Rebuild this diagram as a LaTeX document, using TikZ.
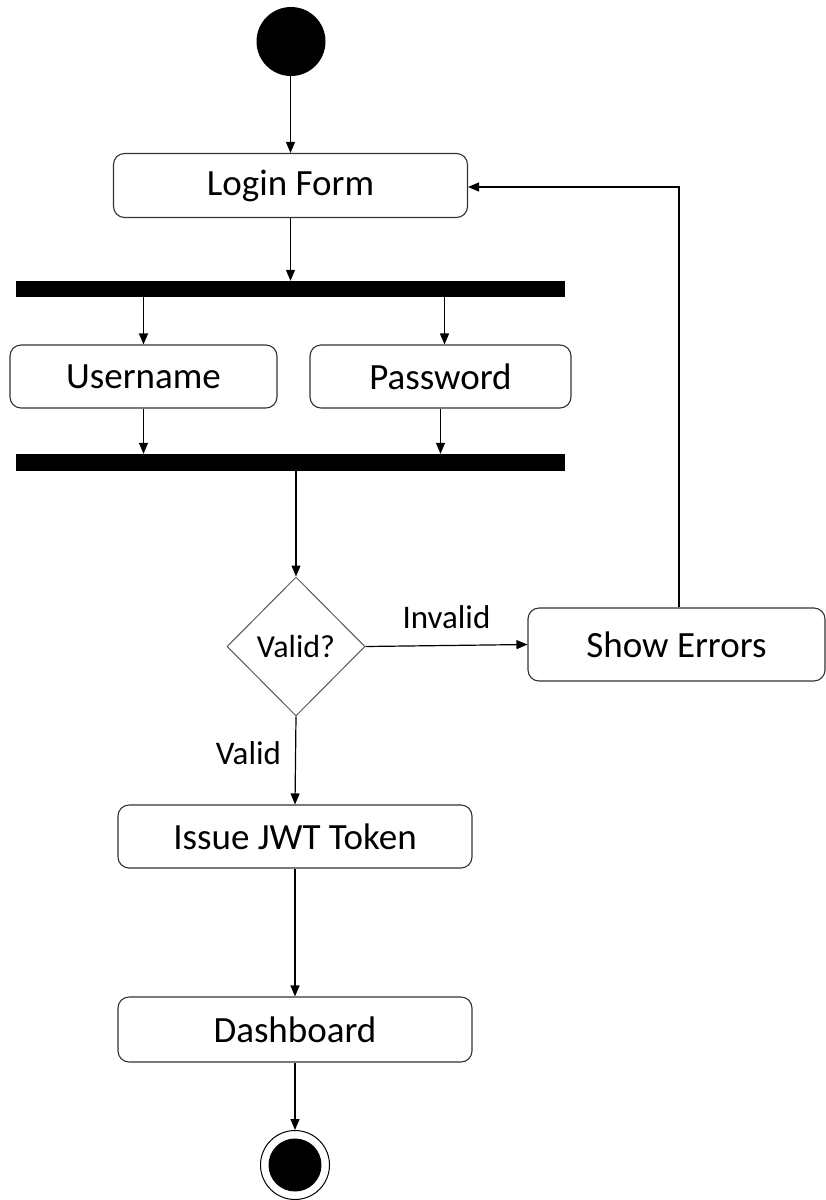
\documentclass[tikz,border=0pt]{standalone}
\usepackage{fontspec}
\setmainfont{Carlito}
\usetikzlibrary{shapes.geometric,arrows.meta}
\begin{document}
\begin{tikzpicture}[x=1pt,y=-1pt,
  action/.style={draw=black!80,line width=1.1pt,rounded corners=11pt,fill=white,
    inner sep=0pt,font=\fontsize{37}{44}\selectfont},
  forkbar/.style={fill=black,draw=none,inner sep=0pt},
  decision/.style={diamond,draw=black!65,line width=1pt,inner sep=0pt,
    minimum width=138pt,minimum height=139pt,font=\fontsize{32}{38}\selectfont},
  flow/.style={draw=black,line width=1.2pt,-{Triangle[length=11pt,width=9pt]}},
  guard/.style={font=\fontsize{33}{40}\selectfont,inner sep=0pt}]
\useasboundingbox (0,0) rectangle (826,1200);

% start and end points
\node[circle,fill=black,inner sep=0pt,minimum size=69pt] (start) at (291,41.5) {};
\node[circle,draw=black,line width=1pt,inner sep=0pt,minimum size=69pt] (stop) at (295,1165) {};
\node[circle,fill=black,inner sep=0pt,minimum size=53pt] (stopdot) at (295,1165) {};

% actions
\node[action,minimum width=354pt,minimum height=64pt] (login) at (290.5,185.5) {Login Form};
\node[forkbar,minimum width=549pt,minimum height=16pt] (fork) at (290.5,289) {};
\node[action,minimum width=267pt,minimum height=63pt] (user) at (143.5,376.5) {Username};
\node[action,minimum width=261pt,minimum height=63pt] (pass) at (440.5,376.5) {Password};
\node[forkbar,minimum width=549pt,minimum height=17pt] (join) at (290.5,462.5) {};
\node[decision] (valid) at (296,646.5) {Valid?};
\node[action,minimum width=297pt,minimum height=73pt] (err) at (676.5,644.5) {Show Errors};
\node[action,minimum width=354pt,minimum height=63pt] (jwt) at (295,836.5) {Issue JWT Token};
\node[action,minimum width=354pt,minimum height=65pt] (dash) at (295,1029.5) {Dashboard};

% flows
\draw[flow] (start.south -| login.north) -- (login.north);
\draw[flow] (login.south) -- (login.south |- fork.north);
\draw[flow] (fork.south -| user.north) -- (user.north);
\draw[flow] ([xshift=4pt]pass.north |- fork.south) -- ([xshift=4pt]pass.north);
\draw[flow] (user.south) -- (user.south |- join.north);
\draw[flow] (pass.south) -- (pass.south |- join.north);
\draw[flow] (join.south -| valid.north) -- (valid.north);
\draw[flow] (valid.east) -- node[guard,above=16pt] (invlbl) {Invalid} (err.west);
\draw[flow] ([xshift=2.5pt]err.north) |- ([yshift=-1.5pt]login.east);
\draw[flow] (valid.south) -- node[guard,left=14pt,pos=0.42] (vlbl) {Valid} (jwt.north);
\draw[flow] (jwt.south) -- (dash.north);
\draw[flow] (dash.south) -- (stop.north);
\end{tikzpicture}
\end{document}
